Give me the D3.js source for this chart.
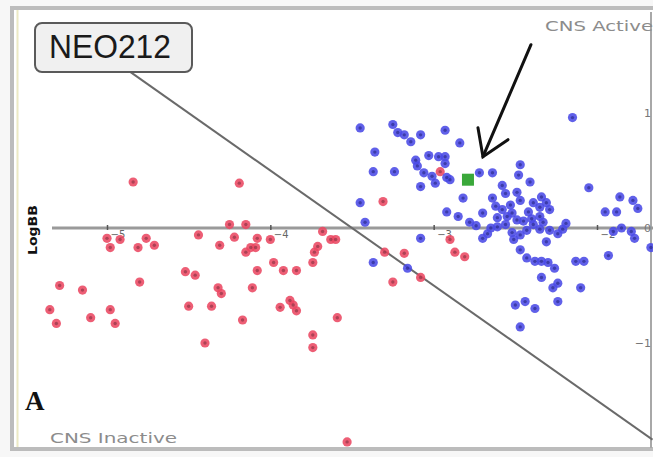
<!DOCTYPE html>
<html>
<head>
<meta charset="utf-8">
<script src="https://cdn.jsdelivr.net/npm/d3@7"></script>
<style>
  html, body { margin: 0; padding: 0; background: #ffffff; }
  svg { display: block; }
</style>
</head>
<body>
<svg id="chart" width="653" height="457"></svg>
<script>
// logPS (x) vs logBB (y); CNS-inactive compounds in red, CNS-active in blue
const xTicks = [-5, -4, -3, -2];
const yTicks = [1, 0, -1];

const inactiveX = [-4.84, -4.19, -4.25, -4.15, -5.00, -4.98, -4.92, -4.81, -4.76, -4.71,
  -4.44, -4.31, -4.22, -4.15, -4.12, -4.09, -4.08, -4.00, -4.08, -3.98,
  -3.92, -3.84, -3.74, -3.73, -3.71, -3.68, -4.52, -4.46, -4.80, -5.29,
  -5.15, -4.32, -4.30, -4.11, -5.35, -5.31, -5.10, -4.98, -4.95, -4.50,
  -4.36, -4.17, -3.94, -3.88, -3.86, -3.84, -4.40, -3.74, -3.74, -3.53,
  -3.63, -3.60, -3.30, -3.18, -3.25, -3.08, -2.90, -2.87, -2.81, -3.59,
  -2.96, -3.31];
const inactiveY = [0.40, 0.39, 0.03, 0.03, -0.09, -0.17, -0.10, -0.17, -0.09, -0.15,
  -0.06, -0.15, -0.08, -0.21, -0.17, -0.17, -0.09, -0.10, -0.37, -0.30,
  -0.37, -0.37, -0.30, -0.21, -0.16, -0.03, -0.38, -0.41, -0.47, -0.50,
  -0.54, -0.52, -0.57, -0.52, -0.71, -0.83, -0.78, -0.71, -0.83, -0.68,
  -0.68, -0.80, -0.69, -0.63, -0.67, -0.72, -1.00, -0.93, -1.04, -1.86,
  -0.10, -0.10, -0.21, -0.22, -0.47, -0.43, -0.10, -0.21, -0.25, -0.78,
  0.49, 0.23];

const activeX = [-3.45, -3.25, -3.22, -3.18, -3.14, -3.08, -2.93, -2.84, -2.15, -3.36,
  -3.11, -3.10, -3.03, -2.97, -2.93, -2.93, -3.37, -3.24, -3.06, -2.92,
  -2.72, -2.64, -2.47, -2.48, -2.41, -3.08, -2.99, -2.90, -2.58, -2.56,
  -2.49, -2.47, -2.64, -2.82, -2.34, -2.31, -2.05, -1.86, -1.78, -1.75,
  -1.95, -1.88, -3.45, -3.42, -2.92, -2.85, -2.70, -2.58, -2.53, -2.52,
  -2.49, -2.35, -2.33, -2.65, -2.67, -2.56, -2.52, -2.51, -2.43, -2.39,
  -2.35, -2.29, -2.24, -2.21, -2.35, -2.29, -2.39, -3.08, -3.37, -1.90,
  -1.85, -1.79, -1.77, -2.47, -2.43, -2.38, -2.34, -2.30, -2.26, -2.13,
  -2.08, -1.93, -1.67, -3.16, -2.70, -2.61, -2.34, -2.27, -2.24, -2.24,
  -2.10, -2.50, -2.44, -2.38, -2.47, -2.78, -2.61, -2.42, -2.47,
  -2.55, -2.45, -2.62, -2.40, -2.31, -2.74, -3.01, -2.19];
const activeY = [0.87, 0.90, 0.83, 0.81, 0.75, 0.81, 0.85, 0.74, 0.96, 0.66,
  0.59, 0.54, 0.63, 0.62, 0.62, 0.56, 0.49, 0.49, 0.48, 0.44,
  0.48, 0.48, 0.55, 0.46, 0.40, 0.36, 0.39, 0.42, 0.37, 0.30,
  0.31, 0.24, 0.26, 0.26, 0.27, 0.22, 0.35, 0.27, 0.24, 0.17,
  0.14, 0.14, 0.22, 0.05, 0.14, 0.10, 0.13, 0.16, 0.20, 0.13,
  0.07, 0.10, 0.05, 0.00, -0.05, 0.03, -0.04, -0.10, -0.02, 0.03,
  -0.01, -0.02, -0.05, -0.01, 0.18, 0.16, 0.22, -0.09, -0.30, -0.03,
  0.00, -0.03, -0.09, -0.19, -0.26, -0.29, -0.29, -0.30, -0.35, -0.29,
  -0.29, -0.24, -0.17, -0.35, -0.09, 0.01, -0.43, -0.52, -0.48, -0.64,
  -0.52, -0.67, -0.64, -0.70, -0.86, 0.05, 0.09, 0.14, -0.06,
  0.10, 0.06, 0.19, 0.08, -0.12, 0.02, 0.45, 0.04];

// highlighted compound
const neoLabel = "NEO212";
const neoX = [-2.79];
const neoY = [0.42];

// separating line between the two classes
const boundaryX = [-4.86, -1.66];
const boundaryY = [1.36, -1.84];

const W = 653, H = 457;
const svg = d3.select("#chart");

const x = d3.scaleLinear().domain([-5, -2]).range([107, 597]);
const y = d3.scaleLinear().domain([-1, 1]).range([343, 113]);

// panel frame
svg.append("rect").attr("x", 0).attr("y", 0).attr("width", W).attr("height", H).attr("fill", "#f7f7f7");
svg.append("rect").attr("x", 12).attr("y", 8).attr("width", W + 10).attr("height", 441)
  .attr("fill", "#ffffff").attr("stroke", "#bcbcbc").attr("stroke-width", 4);
svg.append("line").attr("x1", 17.5).attr("x2", 17.5).attr("y1", 10).attr("y2", 447)
  .attr("stroke", "#ece9c4").attr("stroke-width", 2);
svg.append("line").attr("x1", 651).attr("x2", 651).attr("y1", 12).attr("y2", 448)
  .attr("stroke", "#a8a8a8").attr("stroke-width", 2);

// logBB = 0 axis
svg.append("line").attr("x1", 52).attr("x2", W).attr("y1", y(0)).attr("y2", y(0))
  .attr("stroke", "#9a9a9a").attr("stroke-width", 3);

const xAxis = d3.axisBottom(x).tickValues(xTicks).tickSize(5).tickPadding(1)
  .tickFormat(d3.format("d"));
const gx = svg.append("g").attr("transform", `translate(0,${y(0) - 3})`).call(xAxis);
gx.select(".domain").remove();
gx.selectAll(".tick line").attr("stroke", "#555").attr("stroke-width", 1.5);
gx.selectAll(".tick text").attr("fill", "#666").attr("font-size", 10)
  .attr("font-family", "DejaVu Sans").attr("text-anchor", "start").attr("dx", 3);

const yAxis = d3.axisLeft(y).tickValues(yTicks).tickSize(0).tickPadding(2)
  .tickFormat(d3.format("d"));
const gy = svg.append("g").attr("transform", `translate(653,0)`).call(yAxis);
gy.select(".domain").remove();
gy.selectAll(".tick text").attr("fill", "#777").attr("font-size", 11)
  .attr("font-family", "DejaVu Sans");

// class boundary
svg.append("line")
  .attr("x1", x(boundaryX[0])).attr("y1", y(boundaryY[0]))
  .attr("x2", x(boundaryX[1])).attr("y2", y(boundaryY[1]))
  .attr("stroke", "#6a6a6a").attr("stroke-width", 2);

// compounds
function drawPoints(xs, ys, fill, core) {
  const data = xs.map((v, i) => ({ x: v, y: ys[i] }));
  const g = svg.append("g");
  g.selectAll("circle.o").data(data).join("circle").attr("class", "o")
    .attr("cx", d => x(d.x)).attr("cy", d => y(d.y)).attr("r", 4.6)
    .attr("fill", fill).attr("fill-opacity", 0.88);
  g.selectAll("circle.c").data(data).join("circle").attr("class", "c")
    .attr("cx", d => x(d.x)).attr("cy", d => y(d.y)).attr("r", 1.7)
    .attr("fill", core).attr("fill-opacity", 0.65);
}
drawPoints(inactiveX, inactiveY, "#ea4862", "#8a3344");
drawPoints(activeX, activeY, "#4a4ae6", "#2a2a88");

// highlighted compound and its pointer
const neo = neoX.map((v, i) => ({ x: v, y: neoY[i] }));
svg.selectAll("rect.neo").data(neo).join("rect").attr("class", "neo")
  .attr("x", d => x(d.x) - 6).attr("y", d => y(d.y) - 6)
  .attr("width", 12).attr("height", 12).attr("fill", "#3aa83a");

const tipX = x(neoX[0]) + 15, tipY = y(neoY[0]) - 23;
svg.append("line").attr("x1", tipX + 48).attr("y1", tipY - 112).attr("x2", tipX).attr("y2", tipY)
  .attr("stroke", "#111").attr("stroke-width", 3).attr("stroke-linecap", "round");
svg.append("polyline")
  .attr("points", `${tipX - 5},${tipY - 29} ${tipX},${tipY} ${tipX + 25},${tipY - 17}`)
  .attr("fill", "none").attr("stroke", "#111").attr("stroke-width", 3)
  .attr("stroke-linejoin", "miter").attr("stroke-linecap", "round");

// label box
svg.append("rect").attr("x", 35).attr("y", 23).attr("width", 157).attr("height", 49)
  .attr("rx", 7).attr("fill", "#f0f0f0").attr("stroke", "#5a5a5a").attr("stroke-width", 2);
svg.append("text").attr("x", 49).attr("y", 58).text(neoLabel)
  .attr("font-family", "Liberation Sans, Arial, sans-serif").attr("font-size", 33)
  .attr("fill", "#1a1a1a").attr("textLength", 122).attr("lengthAdjust", "spacingAndGlyphs");

// class labels
svg.append("text").attr("x", 545).attr("y", 31).text("CNS Active")
  .attr("font-family", "DejaVu Sans").attr("font-size", 14).attr("fill", "#8c8c8c")
  .attr("textLength", 108).attr("lengthAdjust", "spacingAndGlyphs");
svg.append("text").attr("x", 50).attr("y", 443).text("CNS Inactive")
  .attr("font-family", "DejaVu Sans").attr("font-size", 14).attr("fill", "#8c8c8c")
  .attr("textLength", 127).attr("lengthAdjust", "spacingAndGlyphs");

// axis title and panel letter
svg.append("text").attr("transform", "translate(37,230) rotate(-90)")
  .attr("text-anchor", "middle").text("LogBB")
  .attr("font-family", "DejaVu Sans").attr("font-weight", "bold").attr("font-size", 12)
  .attr("fill", "#111").attr("textLength", 50).attr("lengthAdjust", "spacingAndGlyphs");
svg.append("text").attr("x", 25).attr("y", 410).text("A")
  .attr("font-family", "Liberation Serif, serif").attr("font-weight", "bold").attr("font-size", 27)
  .attr("fill", "#111");
</script>
</body>
</html>
